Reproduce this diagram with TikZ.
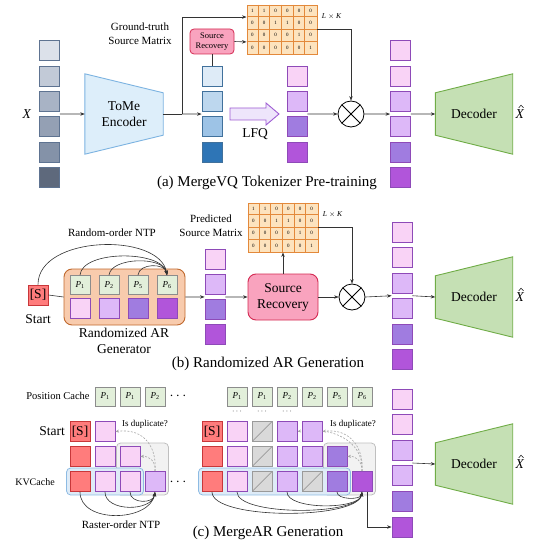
\documentclass[tikz,border=0pt]{standalone}
\usepackage{fontspec}
\setmainfont{Liberation Serif}
\usetikzlibrary{arrows.meta,positioning,calc,fit}
\pgfdeclarelayer{bg}
\pgfsetlayers{bg,main}

\definecolor{cin1}{HTML}{DCE1EA}
\definecolor{cin2}{HTML}{C2CAD7}
\definecolor{cin3}{HTML}{A8B3C5}
\definecolor{cin4}{HTML}{94A0B4}
\definecolor{cin5}{HTML}{8492A8}
\definecolor{cin6}{HTML}{5E697C}
\definecolor{inline}{HTML}{5E7391}
\definecolor{cblu1}{HTML}{DEEBF7}
\definecolor{cblu2}{HTML}{BDD7EE}
\definecolor{cblu3}{HTML}{9DC3E6}
\definecolor{cblu4}{HTML}{2E75B6}
\definecolor{blul}{HTML}{41719C}
\definecolor{ctok1}{HTML}{F9D3F6}
\definecolor{ctok2}{HTML}{DDB8F8}
\definecolor{ctok3}{HTML}{A07CE0}
\definecolor{ctok4}{HTML}{B155DA}
\definecolor{tokline}{HTML}{8E4AB8}
\definecolor{cred}{HTML}{FF7C7C}
\definecolor{credl}{HTML}{C8373A}
\definecolor{cdup}{HTML}{D9D9D9}
\definecolor{cdupl}{HTML}{9A9A9A}
\definecolor{cpg}{HTML}{E2EFDA}
\definecolor{cpl}{HTML}{8C8C8C}
\definecolor{carr}{HTML}{333333}
\definecolor{cdsh}{HTML}{A6A6A6}
\definecolor{cmat}{HTML}{FDE3BE}
\definecolor{cmatl}{HTML}{E3893B}
\definecolor{csr}{HTML}{F9A3BE}
\definecolor{csrl}{HTML}{D42A52}
\definecolor{cgen}{HTML}{F8CBAD}
\definecolor{cgenl}{HTML}{C0692E}
\definecolor{cgrb}{HTML}{F2F2F2}
\definecolor{cgrbl}{HTML}{BFBFBF}
\definecolor{ckv}{HTML}{DEEBF7}
\definecolor{ckvl}{HTML}{8DBBE3}
\definecolor{cenc}{HTML}{DDEEFA}
\definecolor{cencl}{HTML}{7CB3E1}
\definecolor{cdec}{HTML}{C5E0B4}
\definecolor{cdecl}{HTML}{6FAC46}
\definecolor{clfq}{HTML}{EEE5FB}
\definecolor{clfql}{HTML}{9E5CD3}

\tikzset{
  bigtxt/.style={font=\fontsize{13.5}{16}\selectfont},
  captxt/.style={font=\fontsize{15}{17}\selectfont},
  smtxt/.style={font=\fontsize{11}{14}\selectfont, align=center},
  tok/.style={minimum size=20pt, inner sep=0pt, line width=0.9pt},
  ptok/.style={tok, draw=tokline},
  redtok/.style={tok, fill=cred, draw=credl, font=\fontsize{13.5}{16}\selectfont},
  duptok/.style={tok, fill=cdup, draw=cdupl,
    path picture={\draw[cdupl, line width=0.7pt] (path picture bounding box.south west) -- (path picture bounding box.north east);}},
  pbox/.style={draw=cpl, fill=cpg, line width=0.8pt, minimum width=20pt, minimum height=19pt,
    inner sep=0pt, font=\fontsize{9}{10}\selectfont},
  arr/.style={carr, line width=0.6pt, -{Stealth[length=4.5pt, width=3.4pt]}},
  dsh/.style={cdsh, line width=0.6pt, dash pattern=on 2pt off 1.5pt, -{Stealth[length=3.5pt, width=3pt]}},
  ln/.style={carr, line width=0.6pt},
  otimes/.style={circle, draw=black, line width=0.8pt, minimum size=26pt, inner sep=0pt, fill=white,
    path picture={\draw[line width=0.8pt] (path picture bounding box.north west) -- (path picture bounding box.south east)
      (path picture bounding box.south west) -- (path picture bounding box.north east);}},
  mat/.style={minimum width=70pt, minimum height=49pt, inner sep=0pt, fill=cmat, draw=cmatl, line width=0.9pt},
  srsmall/.style={rounded corners=4pt, fill=csr, draw=csrl, line width=0.8pt, minimum width=44pt,
    minimum height=25pt, inner sep=0pt, align=center, font=\fontsize{8.5}{10}\selectfont},
  srbig/.style={rounded corners=8pt, fill=csr, draw=csrl, line width=0.9pt, minimum width=70pt,
    minimum height=46pt, inner sep=0pt, align=center, font=\fontsize{13.5}{16}\selectfont},
  gen/.style={rounded corners=8pt, fill=cgen, draw=cgenl, line width=0.9pt, minimum width=121pt, minimum height=56pt},
  grbox/.style={rounded corners=4pt, fill=cgrb, draw=cgrbl, line width=0.8pt, inner sep=3pt},
  kvbox/.style={rounded corners=4pt, fill=ckv, draw=ckvl, line width=0.8pt, inner sep=3pt},
  encs/.style={fill=cenc, draw=cencl, line width=0.9pt},
  decs/.style={fill=cdec, draw=cdecl, line width=0.9pt}
}

\begin{document}
\begin{tikzpicture}[x=1pt, y=-1pt]
\useasboundingbox (0,0) rectangle (548,548);

% source matrices and decoders, shared by the three rows
\foreach \m/\mx/\my in {ma/282/29.5, mb/283/227.5}{
  \node[mat] (\m) at (\mx,\my) {};
  \foreach \c in {1,...,5}
    \draw[cmatl, line width=0.8pt] ($(\m.north west)+({\c*70/6},0)$) -- ($(\m.south west)+({\c*70/6},0)$);
  \foreach \r in {1,2,3}
    \draw[cmatl, line width=0.8pt] ($(\m.north west)+(0,{\r*12.25})$) -- ($(\m.north east)+(0,{\r*12.25})$);
  \foreach \rw [count=\r] in {{1,1,0,0,0,0},{0,0,1,1,0,0},{0,0,0,0,1,0},{0,0,0,0,0,1}}
    \foreach \v [count=\c] in \rw
      \node[font=\fontsize{5}{5}\selectfont, inner sep=0pt] at ($(\m.north west)+({(\c-0.5)*70/6},{(\r-0.5)*12.25})$) {\v};
  \node[font=\fontsize{7.5}{8}\selectfont, right=1pt of \m.north east, yshift=-12pt] (\m-lk) {\textit{L} $\times$ \textit{K}};
}
\foreach \d/\y in {deca/114, decb/297, decc/464}{
  \node[bigtxt, minimum width=77pt, minimum height=42pt, inner sep=0pt] (\d) at (474,\y) {Decoder};
  \begin{pgfonlayer}{bg}
    \draw[decs] (\d.north west) -- ($(\d.north east)+(0,-19)$) -- ($(\d.south east)+(0,19)$) -- (\d.south west) -- cycle;
  \end{pgfonlayer}
  \node[bigtxt, inner sep=1pt] (\d-out) at (520,\y) {\textit{X}};
  \draw[line width=0.5pt] ($(\d-out.center)+(-1.3,-6.2)$) -- ++(2.4,-2.6) -- ++(2.4,2.6);
}

% (a) tokenizer pre-training
\node[bigtxt] (xa) at (27,114) {\textit{X}};
\foreach \i in {1,...,6}
  \node[tok, fill=cin\i, draw=inline] (in\i) at (49.5,{25.3*\i+25.5}) {};
\node[bigtxt, align=center, minimum width=78pt, minimum height=42pt, inner sep=0pt] (enc) at (124,114) {ToMe\\Encoder};
\begin{pgfonlayer}{bg}
  \draw[encs] ($(enc.north west)+(0,-19)$) -- (enc.north east) -- (enc.south east) -- ($(enc.south west)+(0,19)$) -- cycle;
\end{pgfonlayer}
\foreach \i in {1,...,4}
  \node[tok, fill=cblu\i, draw=blul] (bl\i) at (212,{25.3*\i+50.8}) {};
\node[srsmall] (srca) at (212,41.5) {Source\\Recovery};
\node[smtxt] (gtlab) at (140,34) {Ground-truth\\Source Matrix};
\coordinate (brA) at ($(enc.east)+(19,0)$);
\draw[ln] (enc.east) -- (brA);
\draw[arr] (brA) -- ($(bl2.south west)!0.5!(bl3.north west)$);
\draw[arr] (brA) |- ($(ma.north west)!0.25!(ma.south west)$);
\draw[arr] (srca.east) -- ($(ma.north west)!0.75!(ma.south west)$);
\draw[ln] (srca.south) -- (bl1.north);
\draw[fill=clfq, draw=clfql, line width=0.9pt] (230,108) -- (266,108) -- (266,103) -- (279,114) -- (266,125) -- (266,120) -- (230,120) -- cycle;
\node[bigtxt] (lfq) at (255,134) {LFQ};
\foreach \i in {1,...,4}
  \node[ptok, fill=ctok\i] (qa\i) at (297,{25.3*\i+50.8}) {};
\node[otimes] (oa) at (351,114) {};
\foreach \c [count=\i] in {ctok1,ctok1,ctok2,ctok2,ctok3,ctok4}
  \node[ptok, fill=\c] (ra\i) at (400.5,{25.3*\i+25.5}) {};
\path[arr]
  ($(in3.south east)!0.5!(in4.north east)$) edge (enc.west)
  ($(qa2.south east)!0.5!(qa3.north east)$) edge (oa.west)
  (oa.east) edge ($(ra3.south west)!0.5!(ra4.north west)$)
  ($(ra3.south east)!0.5!(ra4.north east)$) edge (deca.west);
\draw[arr] (ma.east) -| (oa.north);
\node[captxt] (capa) at (267,183) {(a) MergeVQ Tokenizer Pre-training};

% (b) randomized AR generation
\node[gen] (gen) at (124.5,297) {};
\node[redtok] (sb) at (38,295) {[S]};
\node[bigtxt] (startb) at (38,319) {Start};
\foreach \p/\c [count=\i] in {1/ctok1,2/ctok2,5/ctok3,6/ctok4}{
  \node[pbox] (pg\i) at ({80+29*(\i-1)},285) {\textit{P}\textsubscript{\p}};
  \node[ptok, fill=\c] (tg\i) at ({80+29*(\i-1)},308) {};
}
\node[bigtxt, align=center] (genlab) at (124,341) {Randomized AR\\Generator};
\draw[ln] (sb.east) -- (gen.west);
\draw[arr] (sb.north) .. controls (38,235) and (160,232) .. (pg4.north);
\draw[arr] (pg1.north) .. controls (82,250) and (162,250) .. (pg4.north);
\draw[arr] (pg2.north) .. controls (111,257) and (164,256) .. (pg4.north);
\draw[arr] (pg3.north) .. controls (139,263) and (165,263) .. (pg4.north);
\node[smtxt] (ntpb) at (112,233) {Random-order NTP};
\foreach \i in {1,...,4}
  \node[ptok, fill=ctok\i] (pc\i) at (215,{25.3*\i+233.7}) {};
\node[smtxt] (pslab) at (211,226) {Predicted\\Source Matrix};
\node[srbig] (srb) at (283,297) {Source\\Recovery};
\node[otimes] (ob) at (352,297) {};
\foreach \c [count=\i] in {ctok1,ctok1,ctok2,ctok2,ctok3,ctok4}
  \node[ptok, fill=\c] (rb\i) at (402,{25.5*\i+206.5}) {};
\path[arr]
  (gen.east) edge ($(pc2.south west)!0.5!(pc3.north west)$)
  ($(pc2.south east)!0.5!(pc3.north east)$) edge (srb.west)
  (srb.north) edge (mb.south)
  (srb.east) edge (ob.west)
  (ob.east) edge ($(rb3.south west)!0.5!(rb4.north west)$)
  ($(rb3.south east)!0.5!(rb4.north east)$) edge (decb.west);
\draw[arr] (mb.east) -| (ob.north);
\node[captxt] (capb) at (268,364) {(b) Randomized AR Generation};

% (c) MergeAR generation
\node[font=\fontsize{10.5}{12}\selectfont] (poslab) at (58,396) {Position Cache};
\foreach \p [count=\i] in {1,1,2}
  \node[pbox] (pl\i) at ({80+25*\i},396.5) {\textit{P}\textsubscript{\p}};
\foreach \p [count=\i] in {1,1,2,2,5,6}
  \node[pbox] (pr\i) at ({212+25*\i},396.5) {\textit{P}\textsubscript{\p}};
\foreach \i in {1,2,3}
  \node[font=\fontsize{8}{8}\selectfont] (pd\i) at ({212+25*\i},412) {$\cdots$};
\node[bigtxt] (dotp) at (178,396) {$\cdots$};
\node[bigtxt] (dotk) at (178,482) {$\cdots$};
\node[bigtxt] (startc) at (52,431) {Start};
\node[font=\fontsize{10}{12}\selectfont] (kvlab) at (35,482) {KVCache};
% left cache
\foreach \c/\r/\f in {2/1/ctok1, 2/2/ctok1, 3/2/ctok1, 2/3/ctok1, 3/3/ctok1, 4/3/ctok2}
  \node[ptok, fill=\f] (l\c\r) at ({55+25*\c},{406.5+25*\r}) {};
\node[redtok] (l11) at (80,431.5) {[S]};
\node[redtok] (l12) at (80,456.5) {};
\node[redtok] (l13) at (80,481.5) {};
% right cache
\foreach \c/\r/\f in {2/1/ctok1, 4/1/ctok2, 5/1/ctok2, 2/2/ctok1, 4/2/ctok2, 5/2/ctok2, 6/2/ctok3,
                      2/3/ctok1, 4/3/ctok2, 6/3/ctok3, 7/3/ctok4}
  \node[ptok, fill=\f] (r\c\r) at ({187+25*\c},{406.5+25*\r}) {};
\foreach \c/\r in {3/1, 3/2, 3/3, 5/3}
  \node[duptok] (r\c\r) at ({187+25*\c},{406.5+25*\r}) {};
\node[redtok] (r11) at (212,431.5) {[S]};
\node[redtok] (r12) at (212,456.5) {};
\node[redtok] (r13) at (212,481.5) {};
\begin{pgfonlayer}{bg}
  \node[grbox, fit=(l32)(l43)] (dupl) {};
  \node[kvbox, fit=(l13)(l33)] (kvl) {};
  \node[grbox, fit=(r62)(r73)] (dupr) {};
  \node[kvbox, fit=(r13)(r63)] (kvr) {};
  \draw[dsh] (r73.north) .. controls (364,440) and (330,426) .. (r41.east);
\end{pgfonlayer}
\node[font=\fontsize{9}{10}\selectfont] (dupql) at (145,424) {Is duplicate?};
\node[font=\fontsize{9}{10}\selectfont] (dupqr) at (353,424) {Is duplicate?};
\draw[dsh] (l43.north) .. controls (157,448) and (145,428) .. (l21.east);
\draw[dsh] (l43.north) .. controls (156,462) and (150,456) .. (l32.east);
\draw[dsh] (r73.north) .. controls (364,448) and (350,428) .. (r51.east);
\draw[dsh] (r73.north) .. controls (362,462) and (357,456) .. (r62.east);
\draw[arr] (l13.south) .. controls (80,524) and (150,522) .. (l43.south);
\draw[arr] (l23.south) .. controls (105,512) and (152,512) .. (l43.south);
\draw[arr] (l33.south) .. controls (130,504) and (154,504) .. (l43.south);
\draw[arr] (r13.south) .. controls (212,520) and (358,520) .. (r73.south);
\draw[arr] (r23.south) .. controls (237,516) and (359,516) .. (r73.south);
\draw[arr] (r43.south) .. controls (287,510) and (360,510) .. (r73.south);
\draw[arr] (r63.south) .. controls (337,500) and (361,500) .. (r73.south);
\node[smtxt] (ntpc) at (121,525) {Raster-order NTP};
\foreach \c [count=\i] in {ctok1,ctok1,ctok2,ctok2,ctok3,ctok4}
  \node[ptok, fill=\c] (rc\i) at (402,{25.6*\i+373.4}) {};
\draw[arr] ($(r73.south)+(5,0)$) |- (rc6.west);
\draw[arr] ($(rc3.south east)!0.5!(rc4.north east)$) -- (decc.west);
\node[captxt] (capc) at (268,533) {(c) MergeAR Generation};
\end{tikzpicture}
\end{document}
